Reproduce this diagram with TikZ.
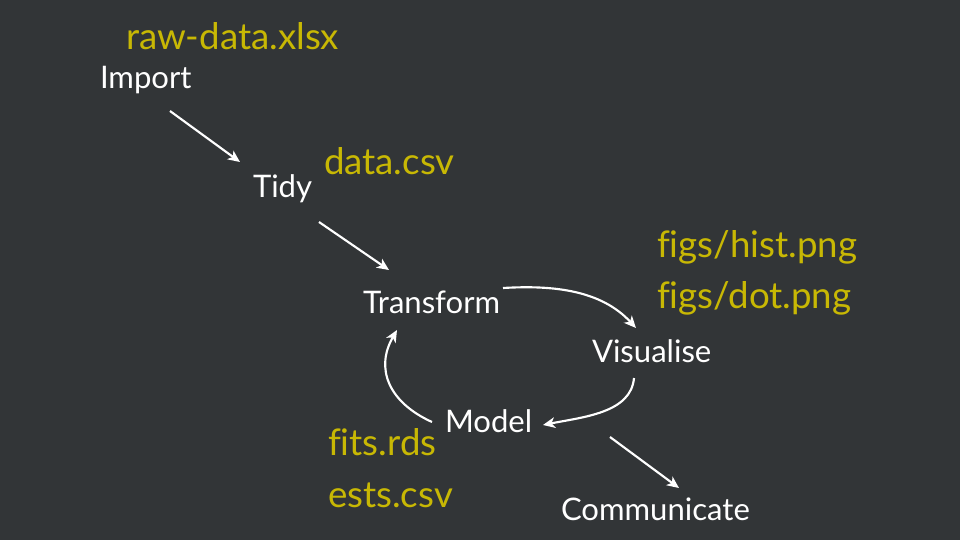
\documentclass[tikz,border=0pt]{standalone}
\usepackage{fontspec}
\setmainfont{Lato}[Ligatures=NoCommon]
\usetikzlibrary{arrows.meta,calc}
\definecolor{bgc}{RGB}{50,53,55}
\definecolor{fileyel}{RGB}{200,184,4}
\tikzset{
  stage/.style={anchor=base west,inner sep=0pt,outer sep=0pt,text=white,font=\fontsize{23.3pt}{27pt}\selectfont},
  filelbl/.style={anchor=base west,inner sep=0pt,outer sep=0pt,text=fileyel,font=\fontsize{27.5pt}{32pt}\selectfont},
  flow/.style={draw=white,line width=1.6pt,-{Stealth[length=9pt,width=8pt,inset=2.5pt]}}
}
\begin{document}
\begin{tikzpicture}[x=0.75pt,y=-0.75pt]
\fill[bgc] (0,0) rectangle (960,540);
\useasboundingbox (0,0) rectangle (960,540);
% stages
\node[stage] (imp) at (100,88) {Import};
\node[stage] (tidy) at (253,197) {Tidy};
\node[stage] (tr) at (363,313) {Transform};
\node[stage] (vis) at (592,362) {Visualise};
\node[stage] (mod) at (445,432) {Model};
\node[stage] (comm) at (561,520) {Communicate};
% files
\node[filelbl] (rawf) at (126,49) {raw-data.xlsx};
\node[filelbl] (dataf) at (324,174) {data.csv};
\node[filelbl] (histf) at (657,257) {figs/hist.png};
\node[filelbl] (dotf) at (657,308) {figs/dot.png};
\node[filelbl] (fitsf) at (328,455) {fits.rds};
\node[filelbl] (estsf) at (328,507) {ests.csv};
% connectors
\draw[flow] ($(imp.base west)+(70,23)$) -- ($(tidy.base west)+(-13,-35)$);
\draw[flow] ($(tidy.base west)+(66,25)$) -- ($(tr.base west)+(26,-43)$);
\draw[flow] ($(tr.base west)+(140,-25)$) .. controls +(50,-3) and +(-35,-38) .. ($(vis.base west)+(44,-34)$);
\draw[flow] ($(vis.base west)+(42,16)$) .. controls +(-3,35) and +(40,-8) .. ($(mod.base west)+(98,-7)$);
\draw[flow] ($(mod.base west)+(-13,-10)$) .. controls +(-44,-20) and +(-22,38) .. ($(tr.base west)+(34,17)$);
\draw[flow] ($(mod.base west)+(165,5)$) -- ($(comm.base west)+(118,-32)$);
\end{tikzpicture}
\end{document}
